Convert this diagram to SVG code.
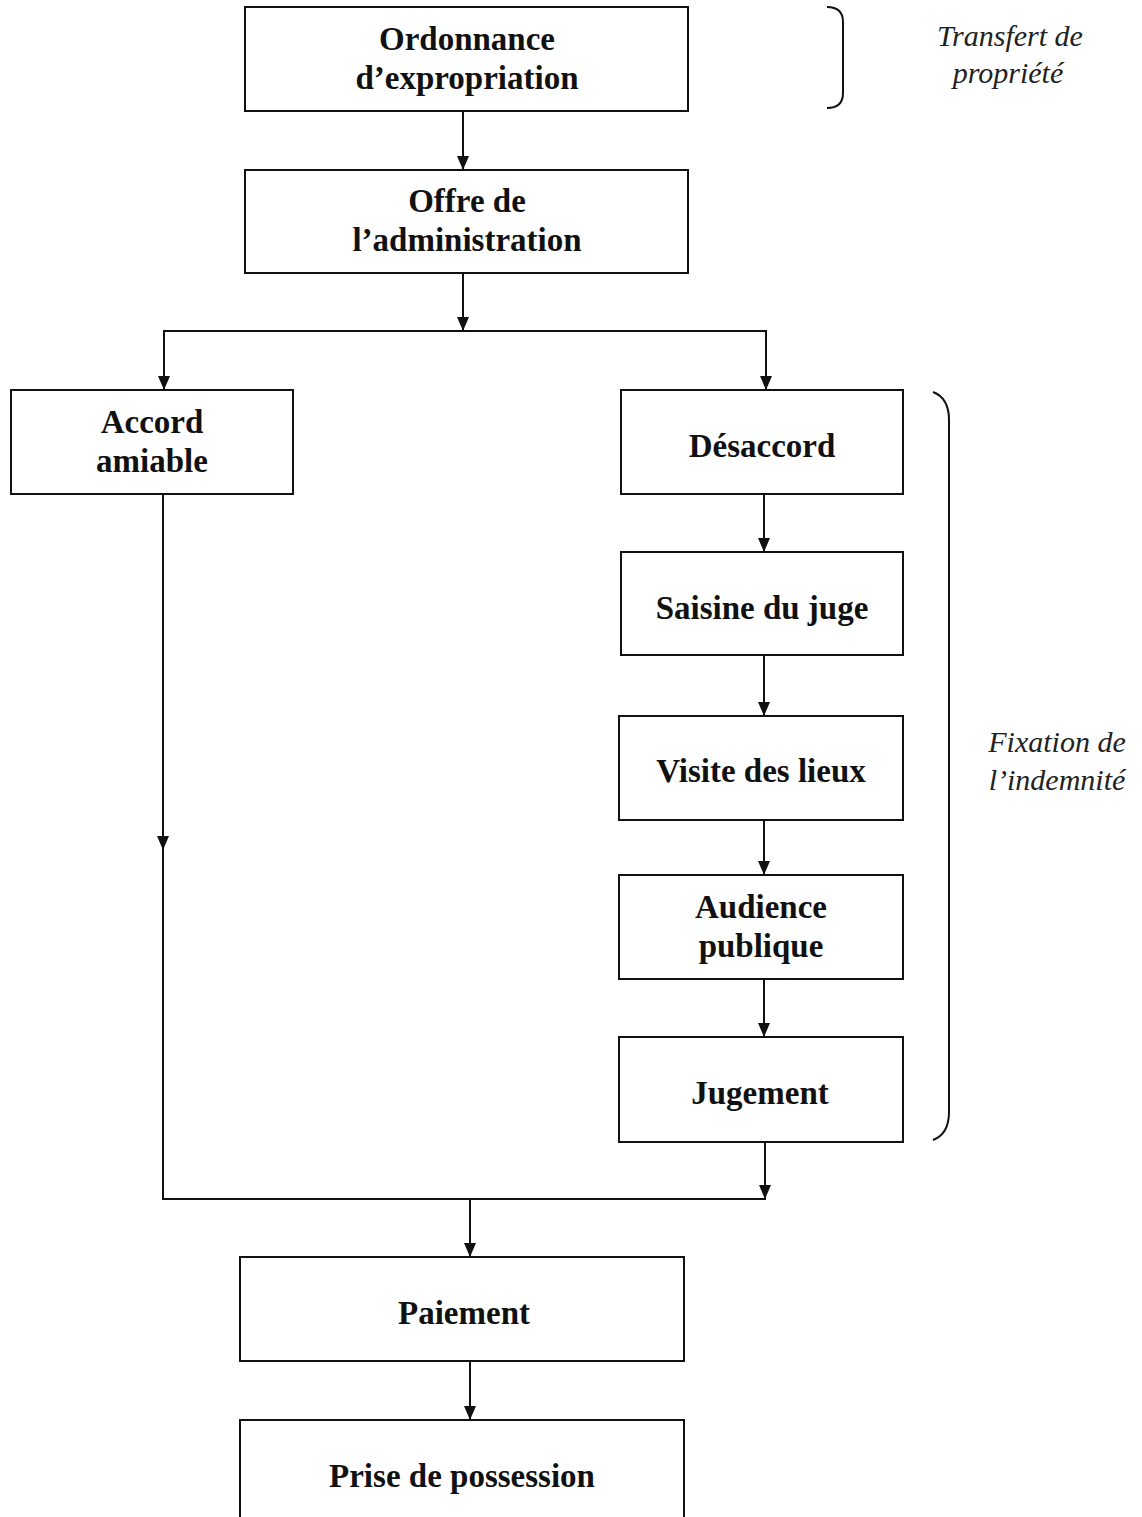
<svg xmlns="http://www.w3.org/2000/svg" width="1142" height="1517" viewBox="0 0 1142 1517">
<style>
.box{fill:#fff;stroke:#111;stroke-width:2}
.t{font-family:"Liberation Serif","Times New Roman",serif;font-weight:bold;font-size:33px;fill:#111;text-anchor:middle}
.n{font-family:"Liberation Serif","Times New Roman",serif;font-style:italic;font-size:30px;fill:#222;text-anchor:middle}
.c{fill:none;stroke:#111;stroke-width:2}
.br{fill:none;stroke:#111;stroke-width:2}
</style>
<defs>
<marker id="ah" viewBox="0 0 14 12" refX="14" refY="6" markerWidth="14" markerHeight="12" markerUnits="userSpaceOnUse" orient="auto">
<path d="M0,0 L14,6 L0,12 Z" fill="#111"/>
</marker>
</defs>
<rect width="1142" height="1517" fill="#fff"/>
<g id="connectors">
<line class="c" x1="463" y1="111" x2="463" y2="170" marker-end="url(#ah)"/>
<line class="c" x1="463" y1="273" x2="463" y2="331" marker-end="url(#ah)"/>
<line class="c" x1="163" y1="331" x2="767" y2="331"/>
<line class="c" x1="164" y1="330" x2="164" y2="390" marker-end="url(#ah)"/>
<line class="c" x1="766" y1="330" x2="766" y2="390" marker-end="url(#ah)"/>
<line class="c" x1="764" y1="494" x2="764" y2="552" marker-end="url(#ah)"/>
<line class="c" x1="764" y1="655" x2="764" y2="716" marker-end="url(#ah)"/>
<line class="c" x1="764" y1="820" x2="764" y2="875" marker-end="url(#ah)"/>
<line class="c" x1="764" y1="979" x2="764" y2="1037" marker-end="url(#ah)"/>
<line class="c" x1="163" y1="494" x2="163" y2="850" marker-end="url(#ah)"/>
<polyline class="c" points="163,845 163,1199 766,1199"/>
<line class="c" x1="765" y1="1142" x2="765" y2="1199" marker-end="url(#ah)"/>
<line class="c" x1="470" y1="1199" x2="470" y2="1257" marker-end="url(#ah)"/>
<line class="c" x1="470" y1="1361" x2="470" y2="1420" marker-end="url(#ah)"/>
</g>
<g id="node-ordonnance">
<rect class="box" x="245" y="7" width="443" height="104"/>
<text class="t" x="467" y="50">Ordonnance</text>
<text class="t" x="467" y="89">d’expropriation</text>
</g>
<g id="node-offre">
<rect class="box" x="245" y="170" width="443" height="103"/>
<text class="t" x="467" y="212">Offre de</text>
<text class="t" x="467" y="251">l’administration</text>
</g>
<g id="node-accord">
<rect class="box" x="11" y="390" width="282" height="104"/>
<text class="t" x="152" y="433">Accord</text>
<text class="t" x="152" y="472">amiable</text>
</g>
<g id="node-desaccord">
<rect class="box" x="621" y="390" width="282" height="104"/>
<text class="t" x="762" y="457">Désaccord</text>
</g>
<g id="node-saisine">
<rect class="box" x="621" y="552" width="282" height="103"/>
<text class="t" x="762" y="619">Saisine du juge</text>
</g>
<g id="node-visite">
<rect class="box" x="619" y="716" width="284" height="104"/>
<text class="t" x="761" y="782">Visite des lieux</text>
</g>
<g id="node-audience">
<rect class="box" x="619" y="875" width="284" height="104"/>
<text class="t" x="761" y="918">Audience</text>
<text class="t" x="761" y="957">publique</text>
</g>
<g id="node-jugement">
<rect class="box" x="619" y="1037" width="284" height="105"/>
<text class="t" x="760" y="1104">Jugement</text>
</g>
<g id="node-paiement">
<rect class="box" x="240" y="1257" width="444" height="104"/>
<text class="t" x="464" y="1324">Paiement</text>
</g>
<g id="node-prise">
<rect class="box" x="240" y="1420" width="444" height="110"/>
<text class="t" x="462" y="1487">Prise de possession</text>
</g>
<g id="brace-transfert">
<path class="br" d="M827,7 Q843,7 843,22 L843,93 Q843,108 827,108"/>
<text class="n" x="1010" y="46">Transfert de</text>
<text class="n" x="1008" y="83">propriété</text>
</g>
<g id="brace-fixation">
<path class="br" d="M933,392 Q949,398 949,420 L949,1112 Q949,1134 933,1140"/>
<text class="n" x="1057" y="752">Fixation de</text>
<text class="n" x="1057" y="790">l’indemnité</text>
</g>
</svg>
